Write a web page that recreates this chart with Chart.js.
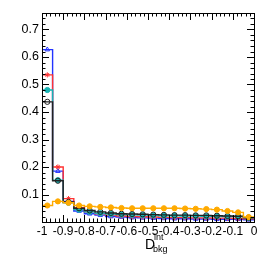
<!DOCTYPE html>
<html>
<head>
<meta charset="utf-8">
<script src="https://cdn.jsdelivr.net/npm/chart.js@4/dist/chart.umd.min.js"></script>
<style>
  body { margin: 0; background: #fff; }
</style>
</head>
<body>
<canvas id="c" width="266" height="255"></canvas>
<script>
"use strict"

// bin centres of the histogram, from -1 to 0 in 20 bins
const binCenters = [-0.975, -0.925, -0.875, -0.825, -0.775, -0.725, -0.675, -0.625, -0.575, -0.525,
  -0.475, -0.425, -0.375, -0.325, -0.275, -0.225, -0.175, -0.125, -0.075, -0.025];
const binEdges = [-1, 0];

// series values
const blueVals = [0.627, 0.185, 0.075, 0.040, 0.030, 0.025, 0.020, 0.018, 0.016, 0.015,
  0.014, 0.013, 0.012, 0.012, 0.011, 0.011, 0.010, 0.010, 0.010, 0.008];
const redVals = [0.535, 0.200, 0.085, 0.052, 0.037, 0.030, 0.025, 0.022, 0.020, 0.019,
  0.018, 0.017, 0.016, 0.016, 0.015, 0.015, 0.014, 0.014, 0.013, 0.012];
const tealVals = [0.480, 0.152, 0.070, 0.045, 0.037, 0.032, 0.029, 0.027, 0.026, 0.025,
  0.024, 0.023, 0.023, 0.022, 0.022, 0.021, 0.021, 0.020, 0.020, 0.015];
const blackVals = [0.437, 0.150, 0.073, 0.050, 0.042, 0.037, 0.033, 0.030, 0.029, 0.028,
  0.027, 0.026, 0.025, 0.025, 0.024, 0.024, 0.023, 0.022, 0.021, 0.016];
const orangeVals = [0.060, 0.075, 0.070, 0.060, 0.057, 0.055, 0.053, 0.051, 0.050, 0.050,
  0.050, 0.050, 0.050, 0.049, 0.048, 0.047, 0.045, 0.040, 0.035, 0.018];

// tick labels
const xTickLabels = ["-1", "-0.9", "-0.8", "-0.7", "-0.6", "-0.5", "-0.4", "-0.3", "-0.2", "-0.1", "0"];
const yTickLabels = ["0.1", "0.2", "0.3", "0.4", "0.5", "0.6", "0.7"];

const FONT = "Liberation Sans";

// build step points: edges carry first/last values, markers only at centres
function histo(vals) {
  const pts = [{ x: binEdges[0], y: vals[0] }];
  binCenters.forEach((x, i) => pts.push({ x: x, y: vals[i] }));
  pts.push({ x: binEdges[1], y: vals[vals.length - 1] });
  return pts;
}
function radii(r) {
  return [0].concat(binCenters.map(() => r), [0]);
}

function series(vals, color, style, filled) {
  return {
    data: histo(vals),
    borderColor: color,
    backgroundColor: filled ? color : "rgba(0,0,0,0)",
    borderWidth: 1.4,
    stepped: "middle",
    pointStyle: style,
    pointRadius: radii(2.6),
    pointBorderWidth: 1,
    pointBorderColor: color,
    pointBackgroundColor: filled ? color : "rgba(0,0,0,0)",
    fill: false
  };
}

// ROOT-like frame with inward ticks and the axis title
const framePlugin = {
  id: "frame",
  afterDraw(chart) {
    const ctx = chart.ctx;
    const a = chart.chartArea;
    const xs = chart.scales.x, ys = chart.scales.y;
    ctx.save();
    ctx.strokeStyle = "#000";
    ctx.lineWidth = 1;
    ctx.strokeRect(a.left + 0.5, a.top + 0.5, a.right - a.left, a.bottom - a.top);
    ctx.beginPath();
    for (let i = 0; i <= 50; i++) {
      const v = -1 + i * 0.02;
      const px = Math.round(xs.getPixelForValue(v)) + 0.5;
      const len = i % 5 === 0 ? 7 : 3.5;
      ctx.moveTo(px, a.bottom); ctx.lineTo(px, a.bottom - len);
      ctx.moveTo(px, a.top); ctx.lineTo(px, a.top + len);
    }
    for (let i = 0; i <= 38; i++) {
      const v = i * 0.02;
      const py = Math.round(ys.getPixelForValue(v)) + 0.5;
      if (py < a.top) continue;
      const len = i % 5 === 0 ? 7 : 3.5;
      ctx.moveTo(a.left, py); ctx.lineTo(a.left + len, py);
      ctx.moveTo(a.right, py); ctx.lineTo(a.right - len, py);
    }
    ctx.stroke();
    // axis title D_bkg^int
    ctx.fillStyle = "#000";
    ctx.textBaseline = "alphabetic";
    ctx.font = "14px " + FONT;
    ctx.fillText("D", 145, 249);
    ctx.font = "9px " + FONT;
    ctx.fillText("int", 154, 240);
    ctx.fillText("bkg", 153, 252);
    ctx.restore();
  }
};

const config = {
  type: "line",
  data: {
    datasets: [
      series(orangeVals, "#ffaa00", "circle", true),
      series(blackVals, "#222222", "circle", false),
      series(tealVals, "#17b3b3", "circle", true),
      series(redVals, "#ff3333", "star", false),
      series(blueVals, "#2233ff", "triangle", false)
    ]
  },
  options: {
    responsive: false,
    animation: false,
    layout: { padding: { top: 13, right: 12, left: 0, bottom: 0 } },
    plugins: { legend: { display: false }, tooltip: { enabled: false } },
    scales: {
      x: {
        type: "linear",
        min: -1,
        max: 0,
        grid: { display: false, drawTicks: false, tickLength: 0 },
        border: { display: false },
        afterFit(s) { s.height = 33; },
        afterBuildTicks(s) {
          s.ticks = xTickLabels.map((t, i) => ({ value: -1 + i * 0.1 }));
        },
        ticks: {
          autoSkip: false,
          maxRotation: 0,
          padding: 2,
          color: "#000",
          font: { family: FONT, size: 12 },
          callback(v, i) { return xTickLabels[i]; }
        }
      },
      y: {
        min: 0,
        max: 0.76,
        grid: { display: false, drawTicks: false, tickLength: 0 },
        border: { display: false },
        afterFit(s) { s.width = 42; },
        afterBuildTicks(s) {
          s.ticks = yTickLabels.map((t, i) => ({ value: (i + 1) * 0.1 }));
        },
        ticks: {
          padding: 3,
          color: "#000",
          font: { family: FONT, size: 12.5 },
          callback(v, i) { return yTickLabels[i]; }
        }
      }
    }
  },
  plugins: [framePlugin]
};

const chart = new Chart(document.getElementById("c"), config);
</script>
</body>
</html>
